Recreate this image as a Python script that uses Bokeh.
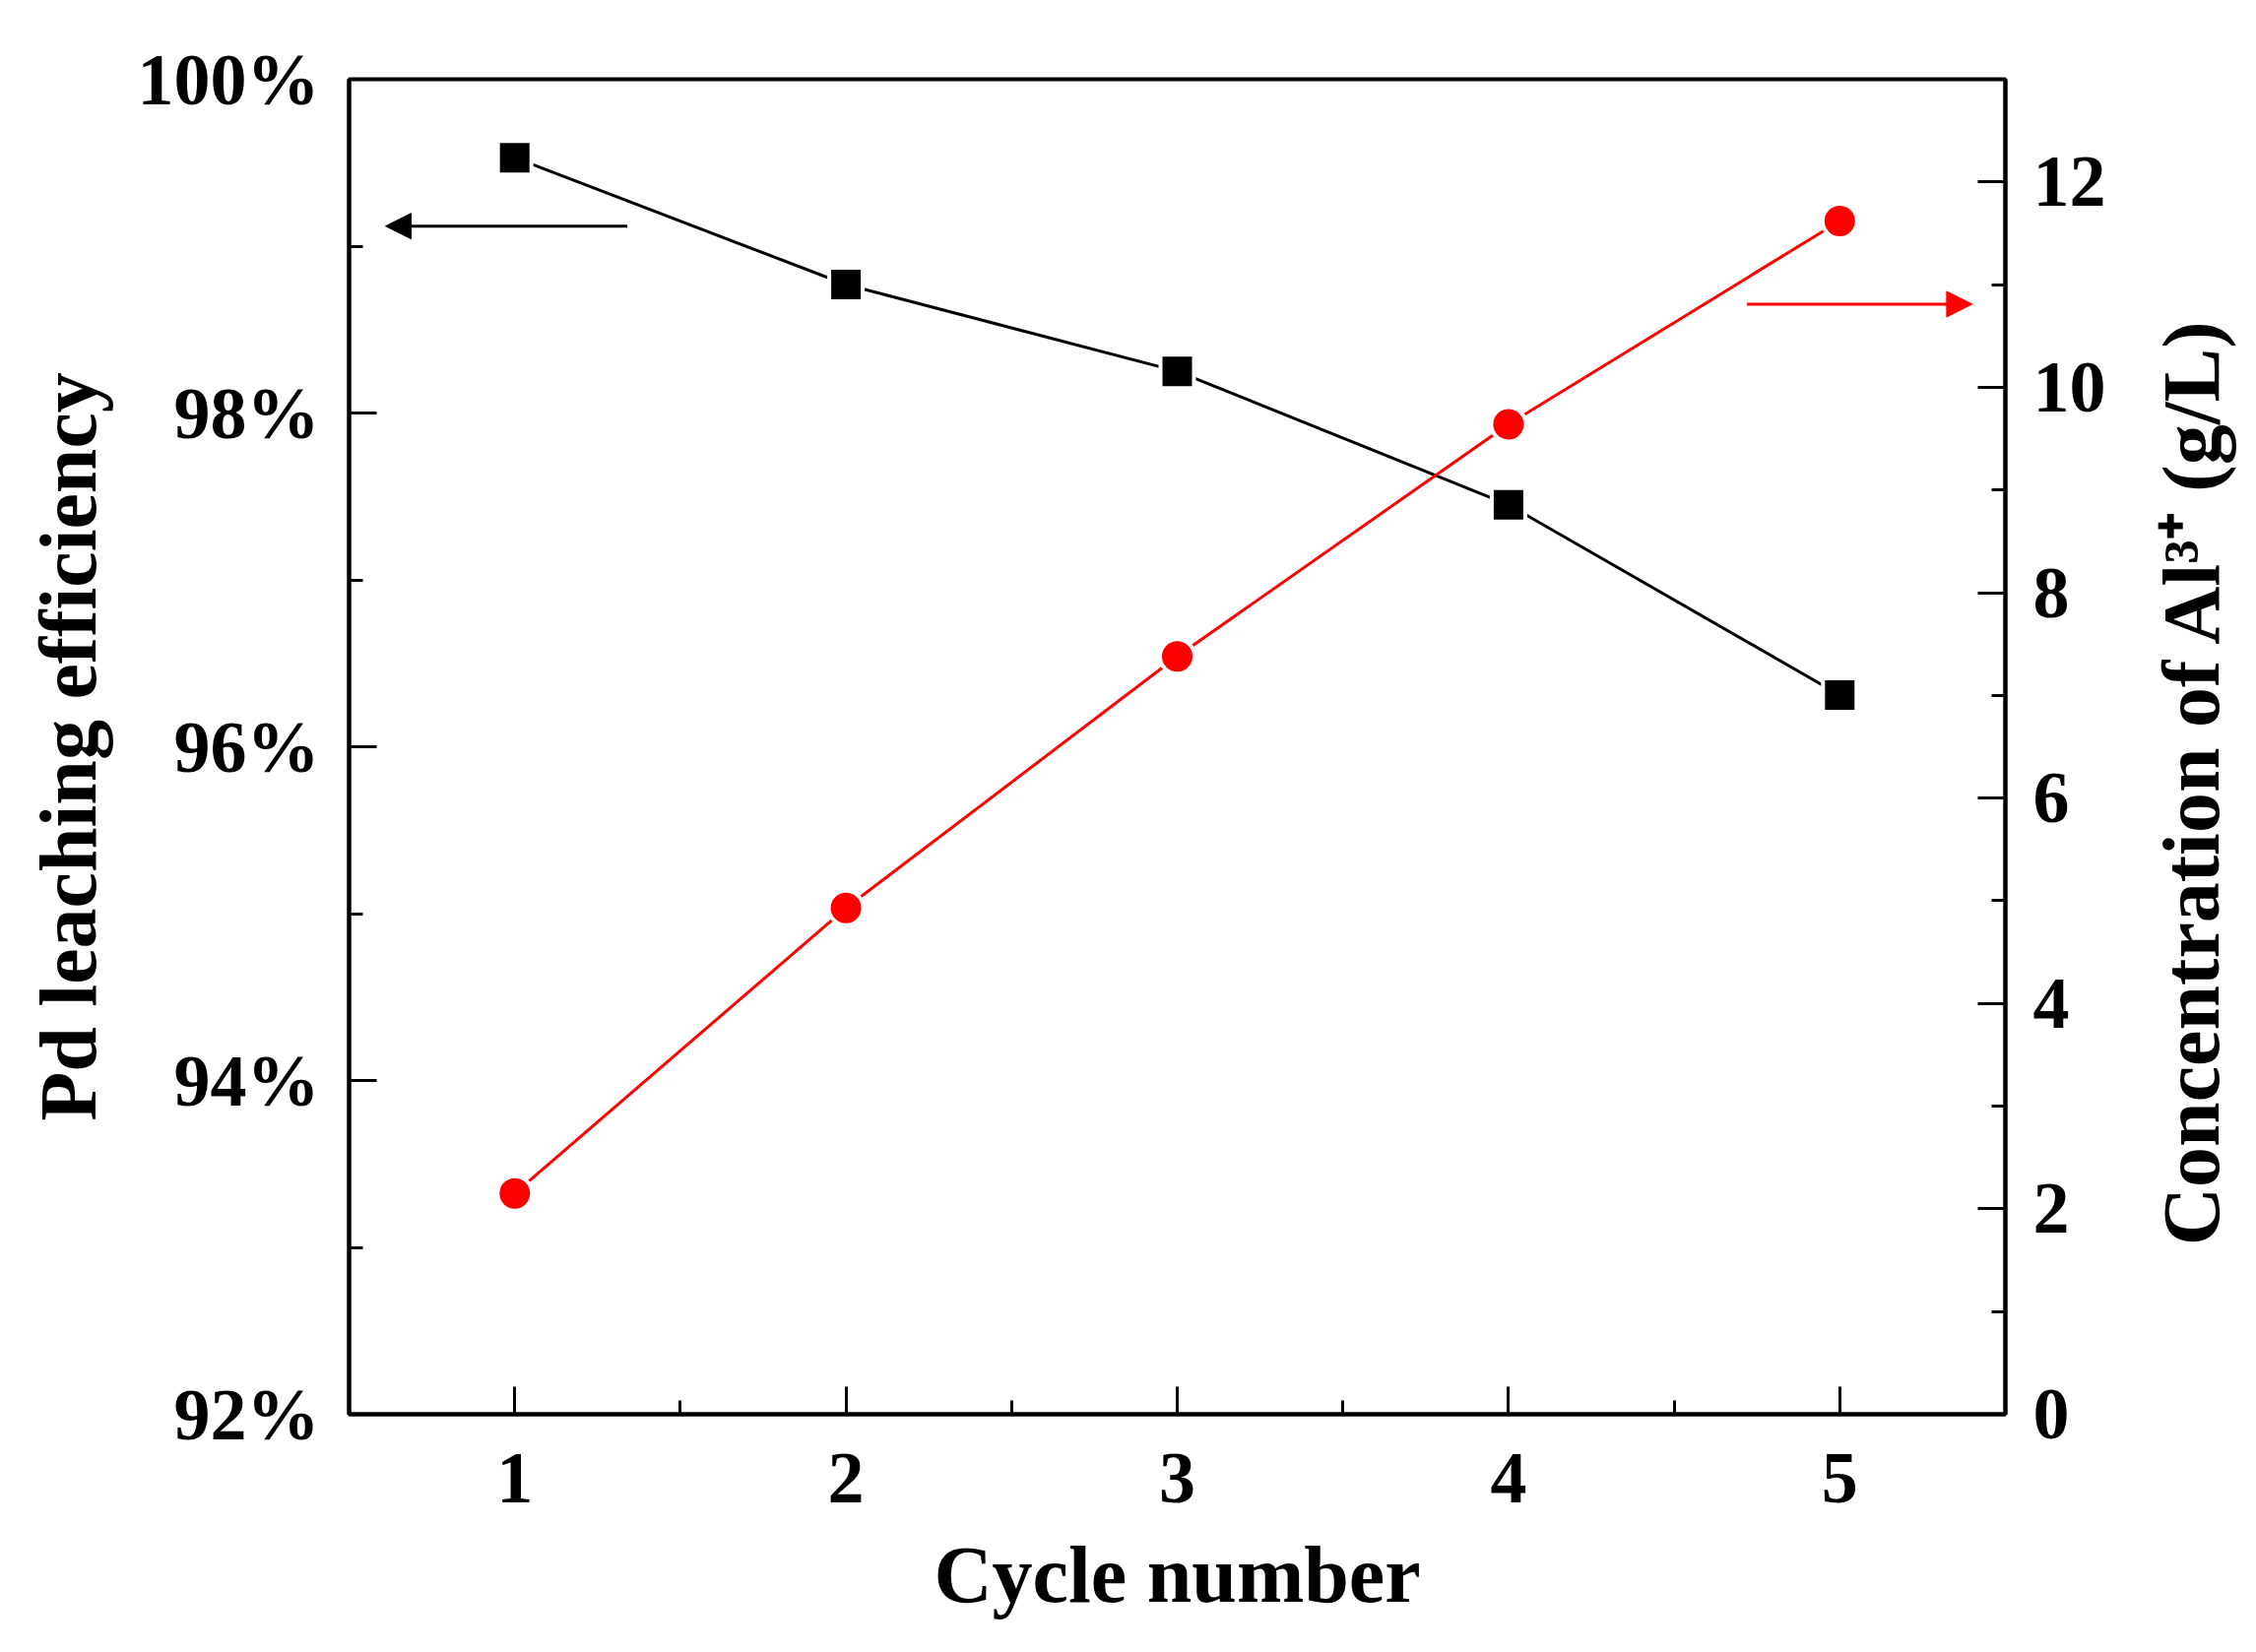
import math

from bokeh.embed import file_html
from bokeh.layouts import row
from bokeh.models import Arrow, FixedTicker, Label, LinearAxis, NormalHead, Range1d
from bokeh.plotting import figure
from bokeh.resources import INLINE

cycles = [1, 2, 3, 4, 5]
pd_efficiency = [99.53, 98.77, 98.25, 97.45, 96.31]  # %
al_conc = [2.15, 4.93, 7.38, 9.64, 11.62]  # g/L

left_ticks = [92, 94, 96, 98, 100]
left_minor = [93, 95, 97, 99]
right_ticks = [0, 2, 4, 6, 8, 10, 12]
right_minor = [1, 3, 5, 7, 9, 11]
x_minor = [1.5, 2.5, 3.5, 4.5]

# arrows pointing at the axis each series belongs to
pd_arrow = dict(x_start=1.34, x_end=0.61, y=99.12)
al_arrow = dict(x_start=4.72, x_end=5.40, y=10.81)

FONT = "Liberation Serif"
HEIGHT = 1662
MAIN_W = 2160
SIDE_W = 115


def style_axis(ax, ticks, minor, labels=None):
    ax.ticker = FixedTicker(ticks=ticks, minor_ticks=minor)
    if labels:
        ax.major_label_overrides = labels
    ax.axis_line_width = 4
    ax.axis_line_color = "black"
    ax.major_tick_line_width = 3
    ax.minor_tick_line_width = 3
    ax.major_tick_in = 28
    ax.major_tick_out = 0
    ax.minor_tick_in = 14
    ax.minor_tick_out = 0
    ax.major_label_text_font = FONT
    ax.major_label_text_font_style = "bold"
    ax.major_label_text_font_size = "74px"
    ax.major_label_text_color = "black"
    ax.axis_label_text_font = FONT
    ax.axis_label_text_font_style = "bold"
    ax.axis_label_text_font_size = "82px"
    ax.axis_label_text_color = "black"


p = figure(width=MAIN_W, height=HEIGHT,
           x_range=Range1d(0.5, 5.5), y_range=Range1d(92, 100),
           output_backend="svg", toolbar_location=None,
           min_border_left=354, min_border_right=MAIN_W - 2036,
           min_border_top=80, min_border_bottom=226)
p.extra_y_ranges = {"al": Range1d(0, 13)}
p.xgrid.visible = False
p.ygrid.visible = False
p.outline_line_color = "black"
p.outline_line_width = 4
p.background_fill_color = "white"
p.border_fill_color = "white"

style_axis(p.xaxis[0], cycles, x_minor)
p.xaxis.axis_label = "Cycle number"
p.xaxis.major_label_standoff = 40
p.xaxis.axis_label_standoff = 25

style_axis(p.yaxis[0], left_ticks, left_minor,
           {t: f"{t}%" for t in left_ticks})
p.yaxis[0].axis_label = "Pd leaching efficiency"
p.yaxis[0].major_label_standoff = 30
p.yaxis[0].axis_label_standoff = 22

right = LinearAxis(y_range_name="al")
style_axis(right, right_ticks, right_minor)
right.major_label_standoff = 28
p.add_layout(right, "right")

p.line(cycles, pd_efficiency, line_color="black", line_width=3)
p.scatter(cycles, pd_efficiency, marker="square", size=34,
          fill_color="black", line_color="white", line_width=4)

p.line(cycles, al_conc, line_color="red", line_width=3, y_range_name="al")
p.scatter(cycles, al_conc, marker="circle", size=35, y_range_name="al",
          fill_color="red", line_color="white", line_width=4)

p.add_layout(Arrow(end=NormalHead(size=26, fill_color="black", line_color="black"),
                   x_start=pd_arrow["x_start"], x_end=pd_arrow["x_end"],
                   y_start=pd_arrow["y"], y_end=pd_arrow["y"],
                   line_color="black", line_width=3))
p.add_layout(Arrow(end=NormalHead(size=26, fill_color="red", line_color="red"),
                   x_start=al_arrow["x_start"], x_end=al_arrow["x_end"],
                   y_start=al_arrow["y"], y_end=al_arrow["y"],
                   y_range_name="al", line_color="red", line_width=3))

# right axis title reads bottom-to-top, so it sits in a narrow strip of its own
side = figure(width=SIDE_W, height=HEIGHT,
              x_range=Range1d(0, SIDE_W), y_range=Range1d(0, HEIGHT),
              output_backend="svg", toolbar_location=None,
              x_axis_location=None, y_axis_location=None, min_border=0)
side.xgrid.visible = False
side.ygrid.visible = False
side.outline_line_color = None
side.add_layout(Label(x=65, y=HEIGHT - 874,
                      text="Concentration of Al³⁺ (g/L)", angle=math.pi / 2,
                      text_align="center", text_baseline="alphabetic",
                      text_font=FONT, text_font_style="bold",
                      text_font_size="82px", text_color="black"))

open("out.html", "w").write(file_html(row(p, side), INLINE))
